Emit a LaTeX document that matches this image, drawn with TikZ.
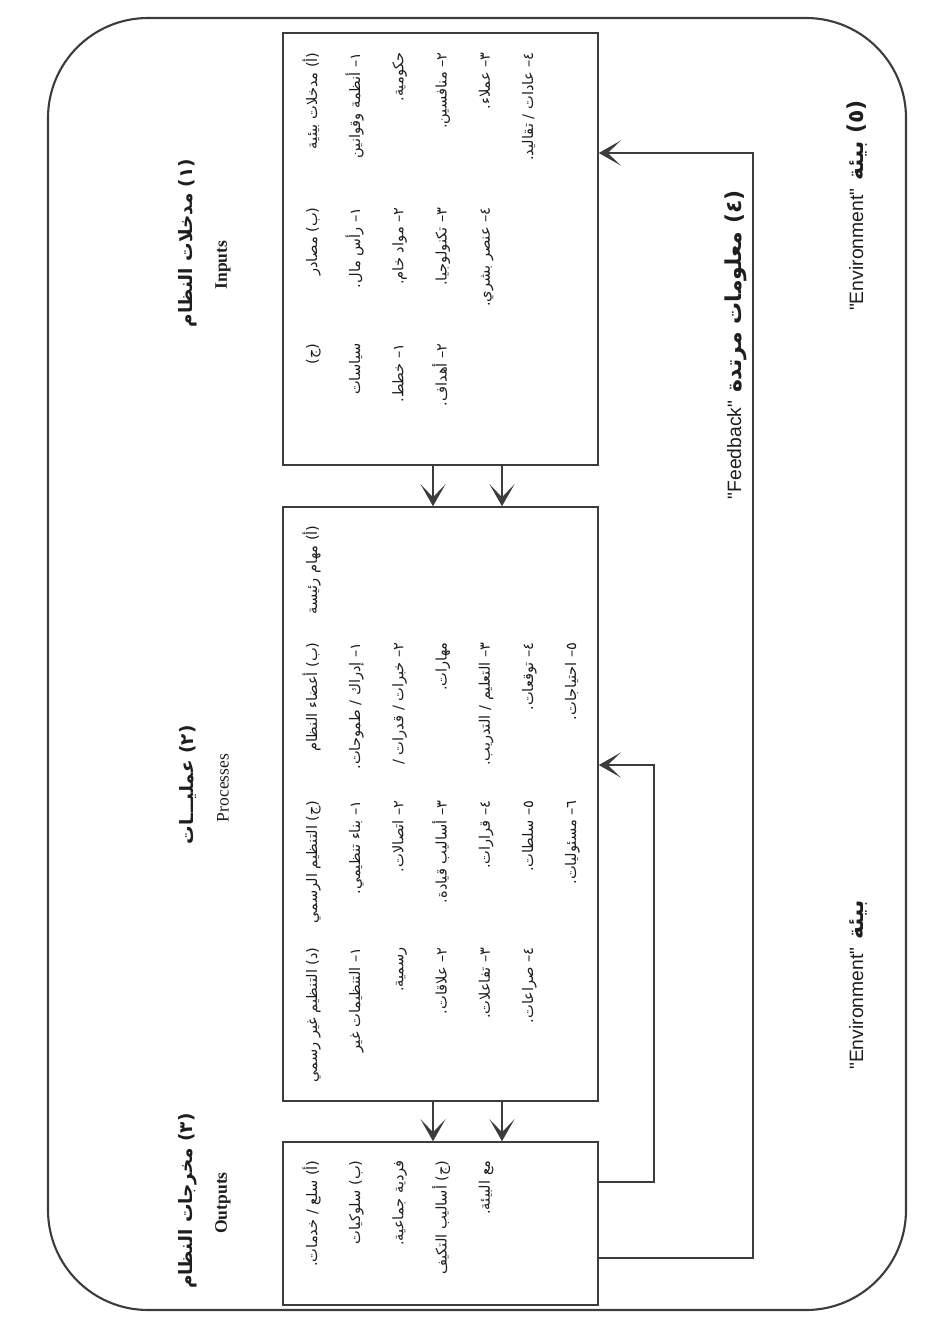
\documentclass[tikz,border=0pt]{standalone}
\usepackage{fontspec}
\setmainfont{Liberation Serif}
\newfontfamily\arabicfont[Script=Arabic]{DejaVu Sans}
\newfontfamily\envfont{Liberation Sans}
\TeXXeTstate=1
\usetikzlibrary{arrows.meta}
\definecolor{SysLine}{HTML}{3C3C3C}
\definecolor{SysText}{HTML}{1E1E1E}
% latin words set inside the arabic labels
\newcommand{\latinword}[1]{\beginL{\envfont\mdseries\fontsize{11}{13}\selectfont #1}\endL}
% one column of right-aligned rows inside a box
\newcommand{\textcol}[3]{\foreach \t [count=\i] in {#3}
  \node[cell] (#1\i) at ({317+43.2*(\i-1)},#2) {\t};}
\tikzset{
  blockbox/.style={draw=SysLine,line width=0.9pt,inner sep=0pt},
  cell/.style={rotate=90,anchor=base east,inner sep=0pt,text=SysText,
    font=\arabicfont\fontsize{8.3}{9}\selectfont},
  artitle/.style={rotate=90,inner sep=0pt,text=SysText,
    font=\arabicfont\bfseries\fontsize{10.5}{13}\selectfont},
  entitle/.style={rotate=90,inner sep=0pt,text=SysText,font=\fontsize{10}{12}\selectfont},
  sidelabel/.style={rotate=90,anchor=base east,inner sep=0pt,text=SysText,
    font=\arabicfont\bfseries\fontsize{12.5}{14}\selectfont},
  flow/.style={draw=SysLine,line width=0.9pt,-{Stealth[length=4.4mm,width=5mm,inset=2.6mm]}},
}
\begin{document}
\begin{tikzpicture}[x=0.2mm,y=-0.2mm]
  \useasboundingbox (0,0) rectangle (941,1320);
  \draw[SysLine,line width=1.2pt,rounded corners=20mm] (48,18) rectangle (906,1310);

  % the three boxes
  \node[blockbox,minimum width=63mm,minimum height=86.4mm] (inbox) at (440.5,249) {};
  \node[blockbox,minimum width=63mm,minimum height=118.8mm] (procbox) at (440.5,804) {};
  \node[blockbox,minimum width=63mm,minimum height=32.6mm] (outbox) at (440.5,1223.5) {};

  % titles
  \node[artitle] (intitle) at (188,243) {\beginR (١) مدخلات النظام\endR};
  \node[entitle] (inen) at (223,265) {\textbf{Inputs}};
  \node[artitle] (proctitle) at (188,785) {\beginR (٢) عمليـــات\endR};
  \node[entitle] (procen) at (223,788) {Processes};
  \node[artitle] (outtitle) at (188,1201) {\beginR (٣) مخرجات النظام\endR};
  \node[entitle] (outen) at (223,1203) {\textbf{Outputs}};

  % inputs
  \textcol{inA}{52}{
    {\beginR (أ) مدخلات بيئية\endR},
    {\beginR ١– أنظمة وقوانين\endR},
    {\beginR حكومية.\endR},
    {\beginR ٢– منافسين.\endR},
    {\beginR ٣– عملاء.\endR},
    {\beginR ٤– عادات / تقاليد.\endR}}
  \textcol{inB}{207}{
    {\beginR (ب) مصادر\endR},
    {\beginR ١– رأس مال.\endR},
    {\beginR ٢– مواد خام.\endR},
    {\beginR ٣– تكنولوجيا.\endR},
    {\beginR ٤– عنصر بشري.\endR}}
  \textcol{inC}{343}{
    {\beginR (ج)\endR},
    {\beginR سياسات\endR},
    {\beginR ١– خطط.\endR},
    {\beginR ٢– أهداف.\endR}}

  % processes
  \textcol{procA}{525}{
    {\beginR (أ) مهام رئيسة\endR}}
  \textcol{procB}{642}{
    {\beginR (ب) أعضاء النظام\endR},
    {\beginR ١– إدراك / طموحات.\endR},
    {\beginR ٢– خبرات / قدرات /\endR},
    {\beginR مهارات.\endR},
    {\beginR ٣– التعليم / التدريب.\endR},
    {\beginR ٤– توقعات.\endR},
    {\beginR ٥– احتياجات.\endR}}
  \textcol{procC}{800}{
    {\beginR (ج) التنظيم الرسمي\endR},
    {\beginR ١– بناء تنظيمي.\endR},
    {\beginR ٢– اتصالات.\endR},
    {\beginR ٣– أساليب قيادة.\endR},
    {\beginR ٤– قرارات.\endR},
    {\beginR ٥– سلطات.\endR},
    {\beginR ٦– مسئوليات.\endR}}
  \textcol{procD}{947}{
    {\beginR (د) التنظيم غير رسمي\endR},
    {\beginR ١– التنظيمات غير\endR},
    {\beginR رسمية.\endR},
    {\beginR ٢– علاقات.\endR},
    {\beginR ٣– تفاعلات.\endR},
    {\beginR ٤– صراعات.\endR}}

  % outputs
  \textcol{outA}{1160}{
    {\beginR (أ) سلع / خدمات.\endR},
    {\beginR (ب) سلوكيات\endR},
    {\beginR فردية جماعية.\endR},
    {\beginR (ج) أساليب التكيف\endR},
    {\beginR مع البيئة.\endR}}

  % flows between boxes
  \coordinate (laneL) at (433,0);
  \coordinate (laneR) at (502,0);
  \draw[flow] (inbox.south -| laneL) -- (procbox.north -| laneL);
  \draw[flow] (inbox.south -| laneR) -- (procbox.north -| laneR);
  \draw[flow] (procbox.south -| laneL) -- (outbox.north -| laneL);
  \draw[flow] (procbox.south -| laneR) -- (outbox.north -| laneR);

  % feedback loops
  \coordinate (loopOut) at (753,1258);
  \coordinate (loopIn) at (753,153);
  \draw[flow] (outbox.east |- loopOut) -- (loopOut) -- (loopIn) -- (inbox.east |- loopIn);
  \coordinate (loopOut2) at (654,1182);
  \coordinate (loopIn2) at (654,765);
  \draw[flow] (outbox.east |- loopOut2) -- (loopOut2) -- (loopIn2) -- (procbox.east |- loopIn2);

  % labels
  \node[sidelabel] (fbtext) at (741,190) {\beginR (٤) معلومات مرتدة \latinword{"Feedback"}\endR};
  \node[sidelabel] (envtext) at (863,100) {\beginR (٥) بيئة \latinword{"Environment"}\endR};
  \node[sidelabel] (envtext2) at (863,900) {\beginR بيئة \latinword{"Environment"}\endR};
\end{tikzpicture}
\end{document}
